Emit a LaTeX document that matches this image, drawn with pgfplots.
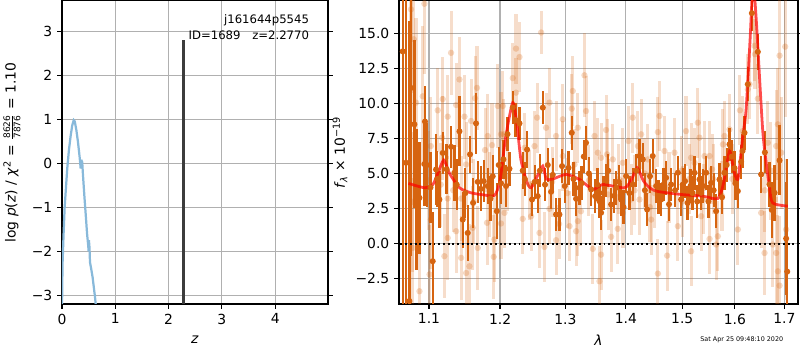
\documentclass[border=0pt]{standalone}
\usepackage{fontspec}
\setmainfont{DejaVu Sans}
\usepackage{pgfplots}
\pgfplotsset{compat=1.18}
\usepackage{pgfplotstable}
\definecolor{dorange}{RGB}{214,100,16}
\definecolor{pzblue}{RGB}{136,185,218}
\definecolor{gridgray}{RGB}{176,176,176}
\definecolor{vline}{RGB}{60,60,60}

\pgfplotstableread{
x y e
1.0651 13.7 20
1.0694 5.76 20
1.0739 -4.1 20
1.0760 11.1 12
1.0805 8.5 6
1.0835 3.14 5
1.0872 3.26 4
1.0938 5.67 3
1.0946 8.7 2.5
1.0973 5.6 3
1.1020 4.0 2.5
1.1050 -1.26 3.5
1.1095 5.28 2.5
1.1110 4.6 2
1.1141 3.14 2
1.1186 6.46 1.5
1.1240 5.3 1.8
1.1301 6.9 1.5
1.1347 5.05 2
1.1380 4.2 1.8
1.1418 8.0 2.5
1.1464 1.71 2
1.1500 3.6 1.8
1.1534 0.76 2
1.1567 6.36 1.3
1.1610 2.9 1.8
1.1652 8.57 2.2
1.1676 4.4 1.5
1.1720 3.9 1.6
1.1762 4.45 1.5
1.1820 4.1 1.3
1.1860 3.2 1.6
1.1893 4.8 1.5
1.1952 2.31 2
1.1981 5.6 1.3
1.2014 4.3 1.5
1.2050 6.0 1.4
1.2089 4.1 1.5
1.2110 7.8 1.2
1.2139 5.33 1.2
1.2188 9.7 1.2
1.2230 8.8 1.2
1.2289 8.57 1.2
1.2338 5.2 1.3
1.2370 4.6 1.2
1.2404 6.7 1.3
1.2479 3.14 1.2
1.2520 4.4 1.2
1.2567 3.38 1.2
1.2600 5.2 1.2
1.2645 9.69 1.2
1.2680 4.2 1.2
1.2722 5.6 1.2
1.2774 3.69 1.2
1.2800 4.9 1.2
1.2852 2.07 1.2
1.2906 2.07 1.2
1.2947 5.52 1.2
1.2990 4.1 1.2
1.3050 5.4 1.2
1.3102 7.9 1.2
1.3130 4.6 1.2
1.3172 3.19 1.2
1.3226 3.98 1.2
1.3260 4.3 1.2
1.3296 6.2 1.2
1.3333 7.19 1.2
1.3380 5.0 1.2
1.3416 3.86 1.2
1.3482 3.38 1.2
1.3520 4.2 1.2
1.3554 3.02 1.2
1.3581 2.2 1.2
1.3620 3.6 1.2
1.3664 4.5 1.2
1.3700 5.2 1.2
1.3749 2.79 1.2
1.3800 3.4 1.2
1.3833 3.98 1.2
1.3880 4.4 1.2
1.3918 3.14 1.2
1.3960 2.6 1.2
1.4003 4.81 1.2
1.4060 3.6 1.2
1.4118 4.21 1.2
1.4180 5.2 1.2
1.4236 6.24 1.2
1.4293 6.0 1.2
1.4330 3.8 1.2
1.4369 2.43 1.2
1.4420 4.8 1.2
1.4468 6.24 1.2
1.4528 4.1 1.2
1.4570 3.3 1.2
1.4617 3.14 1.2
1.4660 4.2 1.2
1.4708 4.69 1.2
1.4760 2.8 1.2
1.4798 4.21 1.2
1.4870 3.8 1.2
1.4920 5.05 1.2
1.4980 3.14 1.2
1.5010 4.2 1.2
1.5053 4.45 1.2
1.5100 2.9 1.2
1.5154 4.1 1.2
1.5190 3.6 1.2
1.5228 5.05 1.2
1.5280 3.0 1.2
1.5322 4.57 1.2
1.5352 3.62 1.2
1.5390 4.1 1.2
1.5447 5.05 1.2
1.5490 3.0 1.2
1.5540 4.33 1.2
1.5590 3.8 1.2
1.5636 2.31 1.2
1.5702 4.57 1.2
1.5750 3.3 1.2
1.5798 5.05 1.2
1.5840 5.6 1.2
1.5895 7.07 1.2
1.5940 6.2 1.2
1.5993 5.38 1.2
1.6010 4.3 1.2
1.6058 3.74 1.2
1.6123 5.83 1.2
1.6150 6.6 1.2
1.6190 7.9 1.2
1.6256 11.36 1.2
1.6337 16.43 1.3
1.6456 13.67 1.3
1.6523 4.93 1.3
1.6600 6.5 1.5
1.6694 4.21 1.6
1.6740 2.4 2
1.6797 3.62 2
1.6900 5.93 2.5
1.7037 0.36 4
1.7060 -2.0 8
}\darkdata

\pgfplotstableread{
x y e
1.0760 16.7 6
1.0797 14.57 6
1.0938 17.1 5
1.0916 10.5 5
1.0826 10.05 6
1.1301 13.6 3
1.1418 11.7 3
1.1186 10.3 3
1.1118 9.5 3
1.1255 9.05 3
1.1371 9.88 3
1.1488 9.05 3
1.1666 11.1 3
1.1638 10.36 3
1.1581 8.74 3
1.1967 9.81 3
1.2014 7.79 3
1.1177 7.55 3
1.1025 6.95 3.5
1.1511 5.64 3
1.1781 6.67 3
1.1820 7.67 3
1.1882 7.02 3
1.1255 3.21 3
1.1441 3.21 3
1.0783 2.98 5
1.1025 1.71 3.5
1.1371 0.88 3
1.1605 1.12 3
1.1255 0.4 3
1.1810 1.48 3
1.1917 0.29 3
1.0783 -0.31 5
1.1209 -0.9 3
1.1441 -1.02 3
1.1676 -0.31 3
1.1907 -0.95 3
1.1511 -2.1 3
1.1558 -1.62 3
1.0872 -3.4 4
1.1007 -2.2 3.5
1.2237 13.9 2.5
1.2289 13.3 2.5
1.2188 11.8 2.5
1.2237 10.76 2.5
1.2619 15.05 1.5
1.3307 12.0 3
1.3118 10.88 2.5
1.3333 9.45 2.5
1.3102 9.62 2.5
1.2749 10.05 2.5
1.2557 8.98 2.5
1.2696 8.26 2.5
1.3200 8.26 2.5
1.2852 7.67 2.5
1.2959 8.86 2.5
1.3472 7.67 2.5
1.3526 6.48 2.5
1.2055 7.79 2.5
1.2041 9.81 2.5
1.2517 6.95 2.5
1.2367 6.83 2.5
1.3146 5.64 2.5
1.2959 6.24 2.5
1.2338 1.76 2.5
1.2594 0.76 2.5
1.2852 0.24 2.5
1.2670 -0.24 2.5
1.3066 1.24 2.5
1.3200 1.6 2.5
1.3172 0.88 2.5
1.3444 -0.38 2.5
1.3554 -2.69 2.5
1.3581 -0.79 2.5
1.2065 2.19 2.5
1.2014 1.43 2.5
1.2465 1.95 2.5
1.2749 2.48 2.5
1.3664 8.1 2.5
1.4118 8.98 2.5
1.4589 9.1 2.5
1.4560 7.95 2.5
1.4264 7.79 2.5
1.4208 6.95 2.5
1.4045 7.31 2.5
1.3581 6.12 2.5
1.3680 6.36 2.5
1.3778 6.0 2.5
1.3947 5.76 2.5
1.4090 3.14 2.5
1.4679 6.6 2.5
1.4859 6.48 2.5
1.5071 8.02 2.5
1.5290 8.62 2.5
1.5322 7.55 2.5
1.5165 6.12 2.5
1.5228 5.76 2.5
1.4920 1.24 2.5
1.4440 1.71 2.5
1.3862 1.05 2.5
1.3749 0.48 2.5
1.4560 -2.14 2.5
1.4726 -0.86 2.5
1.5165 -0.55 2.5
1.4381 6.0 2.5
1.4236 3.14 2.5
1.5416 6.24 2.5
1.5511 6.24 2.5
1.5767 7.07 2.5
1.5895 8.14 2.5
1.5798 7.67 2.5
1.6156 8.02 2.5
1.6290 11.36 2.5
1.6256 11.0 2.5
1.6390 14.1 2.5
1.6400 13.5 2.5
1.6456 10.33 2.5
1.6660 7.19 3
1.6866 8.5 4
1.6830 6.95 4
1.6900 13.4 5
1.7017 14.04 5
1.6935 6.48 4
1.5352 1.95 2.5
1.5511 0.33 2.5
1.5636 -0.07 2.5
1.5670 0.52 2.5
1.6058 1.0 2.5
1.6523 2.19 2.5
1.6593 -0.67 3
1.6830 -0.67 4
1.6866 -1.98 4
1.7037 1.0 5
1.6762 -0.07 3
1.6900 -3.0 5
1.0990 4.5 3.5
1.1160 4.2 3
1.1330 3.8 3
1.1620 3.0 3
1.1850 3.5 3
1.2110 4.8 2.5
1.2440 4.2 2.5
1.2790 4.4 2.5
1.3030 3.6 2.5
1.3380 4.5 2.5
1.3700 3.5 2.5
1.3880 4.6 2.5
1.4150 3.8 2.5
1.4330 5.0 2.5
1.4500 3.6 2.5
1.4760 4.0 2.5
1.5000 3.0 2.5
1.5130 4.6 2.5
1.5400 3.2 2.5
1.5580 4.6 2.5
1.5750 3.4 2.5
1.5950 4.6 2.5
1.6100 9.5 2.5
1.6600 3.8 3
1.6720 5.2 3.5
1.3250 2.3 2.5
1.3950 2.2 2.5
1.4420 2.6 2.5
1.4990 5.2 2.5
1.5560 5.3 2.5
1.2900 1.4 2.5
}\lightdata

\pgfplotstableread{
x y
1.0726 4.29
1.0938 3.98
1.1050 4.2
1.1120 5.0
1.1200 5.95
1.1280 5.0
1.1418 3.98
1.1580 3.62
1.1750 3.48
1.1918 3.43
1.2000 4.5
1.2080 7.5
1.2188 10.05
1.2250 8.5
1.2310 6.0
1.2400 4.4
1.2465 3.98
1.2560 4.8
1.2645 5.52
1.2700 4.6
1.2800 4.6
1.3010 4.93
1.3226 4.57
1.3444 3.86
1.3610 4.21
1.3977 3.98
1.4100 4.6
1.4194 5.4
1.4300 4.5
1.4381 4.1
1.4527 3.74
1.4980 3.5
1.5383 3.38
1.5670 3.21
1.5780 4.3
1.5896 6.6
1.5980 5.2
1.6060 4.57
1.6150 7.5
1.6222 9.57
1.6300 14.5
1.6360 18.5
1.6423 16.0
1.6558 7.9
1.6690 4.1
1.6760 2.9
1.7073 2.67
}\modeldata

\pgfplotsset{
  every axis/.append style={
    font=\fontsize{10}{12}\selectfont,
    scale only axis,
    anchor=south west,
    axis line style={line width=0.8pt},
    grid=major,
    grid style={color=gridgray, line width=0.8pt},
    tick align=outside,
    major tick length=3.5pt,
    tick style={black, line width=0.8pt},
    /pgf/number format/assume math mode=true,
    clip=true,
  },
}

\begin{document}
\begin{tikzpicture}
\path[use as bounding box] (0,0) rectangle (576pt,252pt);

% ---------- left panel ----------
\begin{axis}[
  at={(44.64pt,33.12pt)},
  width=191.5pt, height=218.2pt,
  xmin=0, xmax=4.99, ymin=-3.2, ymax=3.69,
  xtick={0,1,2,3,4},
  ytick={-3,-2,-1,0,1,2,3},
  yticklabels={−3,−2,−1,0,1,2,3},
  xlabel={\textit{z}},
  xlabel style={at={(axis description cs:0.5,0)}, anchor=center, yshift=-26pt},
  ylabel={log \textit{p}(\textit{z}) / \textit{χ}$^{\mbox{\fontsize{7}{7}\selectfont 2}}$ = $\frac{\mbox{\fontsize{6.5}{7}\selectfont 8626}}{\mbox{\fontsize{6.5}{7}\selectfont 7876}}$ = 1.10},
  ylabel style={at={(axis description cs:0,0.5)}, anchor=center, yshift=36pt},
]
\addplot[color=pzblue, line width=1.6pt] coordinates {
(0.000,-3.3) (0.010,-2.3) (0.030,-1.6) (0.050,-1.0) (0.080,-0.45) (0.100,-0.1)
(0.130,0.3) (0.160,0.6) (0.190,0.85) (0.220,0.98) (0.240,0.95) (0.270,0.75)
(0.300,0.48) (0.330,0.15) (0.345,-0.05) (0.350,-0.12) (0.355,0.03) (0.370,0.05)
(0.380,0.02) (0.390,-0.2) (0.420,-0.75) (0.450,-1.25) (0.470,-1.6) (0.490,-1.85)
(0.500,-2.0) (0.505,-1.75) (0.515,-1.9) (0.525,-2.25) (0.540,-2.35) (0.555,-2.45)
(0.575,-2.6) (0.600,-2.85) (0.620,-3.05) (0.640,-3.3)
};
\addplot[color=vline, line width=2pt] coordinates {(2.277,-3.5) (2.277,2.8)};
\end{axis}
\node[anchor=east, font=\fontsize{8.4}{10}\selectfont] at (226pt,237.6pt) {j161644p5545};
\node[anchor=east, font=\fontsize{8.4}{10}\selectfont] at (226pt,226.8pt) {ID=1689\quad z=2.2770};

% ---------- right panel ----------
\begin{axis}[
  at={(287.28pt,33.12pt)},
  width=287.3pt, height=218.2pt,
  xmode=log,
  xmin=1.0603, xmax=1.7287, ymin=-4.31, ymax=17.3,
  xtick={1.1,1.2,1.3,1.4,1.5,1.6,1.7},
  xticklabels={1.1,1.2,1.3,1.4,1.5,1.6,1.7},
  xminorticks=false,
  ytick={-2.5,0,2.5,5,7.5,10,12.5,15},
  yticklabels={−2.5,0.0,2.5,5.0,7.5,10.0,12.5,15.0},
  xlabel={\textit{λ}},
  xlabel style={at={(axis description cs:0.5,0)}, anchor=center, yshift=-26pt},
  ylabel={\textit{f}$_{\mbox{\fontsize{7}{7}\selectfont\itshape λ}}$ × 10$^{\mbox{\fontsize{7}{7}\selectfont −19}}$},
  ylabel style={at={(axis description cs:0,0.5)}, anchor=center, yshift=42.5pt},
]
\addplot[color=dorange, only marks, mark=*, mark size=2.3pt,
  mark options={draw opacity=0, fill=dorange, fill opacity=0.25},
  error bars/.cd, y dir=both, y explicit, error mark=none,
  error bar style={color=dorange, line width=2.2pt, draw opacity=0.22}]
  table[x=x, y=y, y error=e] {\lightdata};
\addplot[color=dorange, only marks, mark=*, mark size=2.2pt,
  mark options={draw opacity=0, fill=dorange},
  error bars/.cd, y dir=both, y explicit, error mark=none,
  error bar style={color=dorange, line width=1.7pt}]
  table[x=x, y=y, y error=e] {\darkdata};
\addplot[color=red, draw opacity=0.7, line width=2pt, smooth, tension=0.4] table[x=x, y=y] {\modeldata};
\addplot[black, dotted, line width=1.4pt] coordinates {(1.05,0) (1.75,0)};
\end{axis}
\node[anchor=east, font=\fontsize{4.6}{5}\selectfont] at (567.4pt,7.2pt) {Sat Apr 25 09:48:10 2020};
\end{tikzpicture}
\end{document}
